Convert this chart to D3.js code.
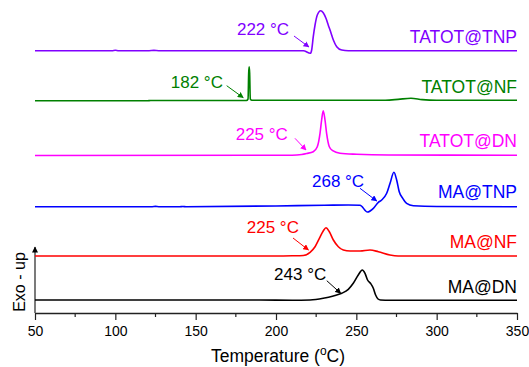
<!DOCTYPE html>
<html>
<head>
<meta charset="utf-8">
<script src="https://cdn.jsdelivr.net/npm/d3@7"></script>
<style>
  body { margin: 0; background: #fff; }
  text { font-family: "Liberation Sans", Arial, sans-serif; }
</style>
</head>
<body>
<div id="chart"></div>
<script>
// DSC curves, temperature (°C) vs heat flow (a.u., curves shifted)
var seriesNames = ["MA@DN", "MA@NF", "MA@TNP", "TATOT@DN", "TATOT@NF", "TATOT@TNP"];
var seriesColors = ["#000000", "#ff0000", "#0000ff", "#ff00ff", "#008000", "#8000ff"];

var maDN = [[50,1.3],[190,1.3],[210,1.27],[221.2,1.3],[229.4,1.47],[235.7,1.7],[240.9,1.97],[245.0,2.37],
  [248.1,2.97],[251.2,3.8],[253.7,4.3],[255.4,3.97],[257.0,3.3],[258.9,2.95],[260.5,2.5],[262.0,1.8],
  [263.5,1.4],[265,1.3],[271,1.28],[350,1.28]];
var maNF = [[50,5.7],[200,5.7],[210,5.72],[217.0,5.75],[221.2,6.07],[224.3,6.63],[227.0,7.47],[229.4,8.2],
  [231.1,8.53],[233.2,8.13],[235.7,7.3],[238.8,6.63],[241.9,6.3],[246.1,6.2],[252.3,6.2],[258.5,6.3],
  [263.7,6.13],[270.9,5.8],[276,5.7],[350,5.7]];
var maTNP = [[50,10.63],[123,10.63],[125,10.66],[127,10.63],[140,10.63],[142,10.65],[144,10.63],[200,10.7],
  [230,10.78],[245,10.8],[252.3,10.78],[256.9,10.1],[260.6,10.47],[263.7,11.07],[265.8,11.3],[268.9,11.97],
  [271.0,12.97],[273.4,14.07],[275.1,13.3],[276.7,12.13],[278.9,11.47],[281.3,10.97],[285.5,10.73],
  [300,10.65],[350,10.63]];
var tatotDN = [[50,15.75],[210,15.78],[216,15.85],[219.1,15.95],[223.2,16.13],[225.7,16.63],[227.4,17.97],
  [228.4,19.3],[229.4,20.23],[230.5,19.3],[231.5,17.97],[233.2,16.63],[235.3,16.23],[239.8,15.97],
  [250.2,15.87],[270,15.8],[350,15.78]];
var tatotNF = [[50,21.22],[120,21.22],[122,21.25],[181.6,21.25],[182.6,21.4],[183.0,24.0],[183.3,24.63],
  [183.6,24.0],[184.0,21.4],[185,21.28],[268,21.28],[276,21.36],[284,21.47],[291,21.34],[300,21.28],[350,21.28]];
var tatotTNP = [[50,26.23],[98,26.23],[100,26.27],[102,26.23],[121,26.23],[124,26.26],[127,26.23],[217,26.23],
  [221.4,25.97],[222.2,26.3],[223.2,27.63],[224.3,28.8],[225.7,29.8],[227.8,30.23],[229.4,30.03],[231.1,29.47],
  [232.5,28.8],[234.0,28.13],[235.7,27.3],[237.8,26.63],[240.9,26.3],[245,26.23],[350,26.23]];
var seriesData = [maDN, maNF, maTNP, tatotDN, tatotNF, tatotTNP];

// onset temperatures marked with arrows
var onsetLabels = ["243 °C", "225 °C", "268 °C", "225 °C", "182 °C", "222 °C"];
var xTicks = [50, 100, 150, 200, 250, 300, 350];
var xMinorTicks = [75, 125, 175, 225, 275, 325];

// annotation placement (data units)
var onsetText = [[198.8,3.3],[181.8,8.0],[222.4,12.63],[174.9,17.3],[134.5,22.5],[175.7,27.8]];
var arrowFrom = [[231.6,3.23],[210.6,7.5],[252.3,12.47],[211.8,17.47],[169.3,22.73],[211.2,27.7]];
var arrowTo = [[240.3,1.97],[220.2,6.3],[262.7,11.2],[218.7,16.3],[179.6,21.53],[220.5,26.6]];
var nameY = [2.0, 6.5, 11.5, 16.63, 22.0, 26.97];

var svgWidth = 529;
var svgHeight = 367;
var margin = { top: 5, right: 12, bottom: 54, left: 35 };
var width = svgWidth - margin.left - margin.right;
var height = svgHeight - margin.top - margin.bottom;

var svg = d3.select("#chart")
    .append("svg")
    .attr("width", svgWidth)
    .attr("height", svgHeight);

var chartGroup = svg.append("g")
    .attr("transform", `translate(${margin.left}, ${margin.top})`);

var x = d3.scaleLinear().domain([50, 350]).range([0, width]);
var y = d3.scaleLinear().domain([0, 30.8]).range([height, 0]);

// arrow heads
var defs = svg.append("defs");
seriesColors.forEach(function(c, i) {
    defs.append("marker")
        .attr("id", "arr" + i)
        .attr("viewBox", "0 0 10 10")
        .attr("refX", 9).attr("refY", 5)
        .attr("markerWidth", 6).attr("markerHeight", 6)
        .attr("markerUnits", "userSpaceOnUse")
        .attr("orient", "auto")
        .append("path")
        .attr("d", "M0,0 L10,5 L0,10 z")
        .attr("fill", c);
});

// x axis
var bottomAxis = d3.axisBottom(x)
    .tickValues(xTicks)
    .tickSize(7)
    .tickSizeOuter(0)
    .tickPadding(6)
    .tickFormat(d3.format("d"));
var xAxisG = chartGroup.append("g")
    .attr("transform", `translate(0, ${height})`)
    .call(bottomAxis);
xAxisG.selectAll("text").attr("font-size", 14).attr("fill", "#000").attr("font-family", null);
xAxisG.select(".domain").attr("stroke", "#222").attr("stroke-width", 1.3);
xAxisG.selectAll(".tick line").attr("stroke", "#222").attr("stroke-width", 1.2);

chartGroup.append("g").selectAll("line")
    .data(xMinorTicks)
    .enter()
    .append("line")
    .attr("x1", d => x(d)).attr("x2", d => x(d))
    .attr("y1", height).attr("y2", height + 4)
    .attr("stroke", "#222").attr("stroke-width", 1.2);

// y axis with arrow (Exo - up)
defs.append("marker")
    .attr("id", "yarrow")
    .attr("viewBox", "0 0 10 10")
    .attr("refX", 9).attr("refY", 5)
    .attr("markerWidth", 7).attr("markerHeight", 6)
    .attr("markerUnits", "userSpaceOnUse")
    .attr("orient", "auto")
    .append("path")
    .attr("d", "M0,0 L10,5 L0,10 z")
    .attr("fill", "#000");
chartGroup.append("line")
    .attr("x1", 0).attr("x2", 0)
    .attr("y1", height).attr("y2", height - 66)
    .attr("stroke", "#222").attr("stroke-width", 1.2)
    .attr("marker-end", "url(#yarrow)");

// curves
var line = d3.line()
    .x(d => x(d[0]))
    .y(d => y(d[1]))
    .curve(d3.curveMonotoneX);

chartGroup.append("g").selectAll("path")
    .data(seriesData)
    .enter()
    .append("path")
    .attr("d", line)
    .attr("fill", "none")
    .attr("stroke", (d, i) => seriesColors[i])
    .attr("stroke-width", 1.6);

// series names
chartGroup.append("g").selectAll("text")
    .data(seriesNames)
    .enter()
    .append("text")
    .attr("x", x(350))
    .attr("y", (d, i) => y(nameY[i]))
    .attr("text-anchor", "end")
    .attr("font-size", 17.5)
    .attr("fill", (d, i) => seriesColors[i])
    .text(d => d);

// onset labels and arrows
chartGroup.append("g").selectAll("text")
    .data(onsetLabels)
    .enter()
    .append("text")
    .attr("x", (d, i) => x(onsetText[i][0]))
    .attr("y", (d, i) => y(onsetText[i][1]))
    .attr("font-size", 17)
    .attr("fill", (d, i) => seriesColors[i])
    .text(d => d);

chartGroup.append("g").selectAll("line")
    .data(onsetLabels)
    .enter()
    .append("line")
    .attr("x1", (d, i) => x(arrowFrom[i][0]))
    .attr("y1", (d, i) => y(arrowFrom[i][1]))
    .attr("x2", (d, i) => x(arrowTo[i][0]))
    .attr("y2", (d, i) => y(arrowTo[i][1]))
    .attr("stroke", (d, i) => seriesColors[i])
    .attr("stroke-width", 1)
    .attr("marker-end", (d, i) => `url(#arr${i})`);

// axis labels
chartGroup.append("text")
    .attr("transform", `translate(-10, ${height - 31}) rotate(-90)`)
    .attr("text-anchor", "middle")
    .attr("font-size", 16)
    .text("Exo - up");

var xt = chartGroup.append("text")
    .attr("x", width / 2 + 2)
    .attr("y", height + 49)
    .attr("text-anchor", "middle")
    .attr("font-size", 17.5);
xt.append("tspan").text("Temperature (");
xt.append("tspan").attr("font-size", 12).attr("dy", -7).text("o");
xt.append("tspan").attr("dy", 7).text("C)");
</script>
</body>
</html>
